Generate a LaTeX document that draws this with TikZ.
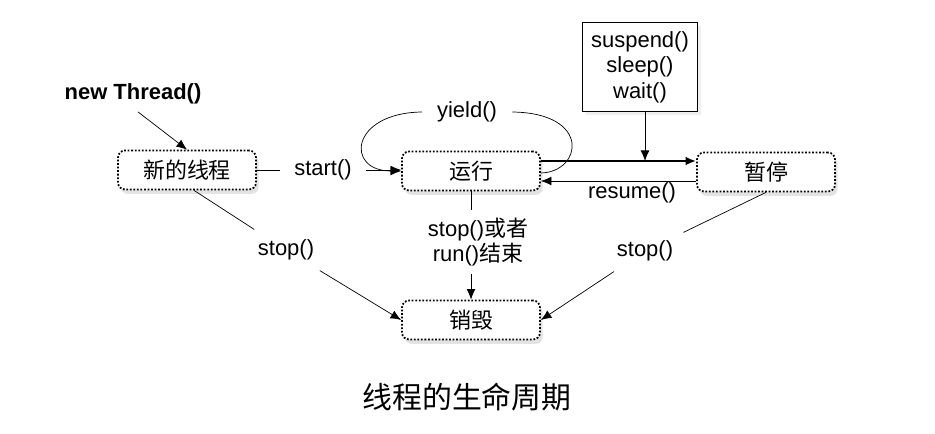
\documentclass[tikz,border=0pt]{standalone}
\usepackage{fontspec}
\setmainfont{Liberation Sans}
\newfontfamily\cjk{Noto Sans CJK SC}
\usetikzlibrary{calc, shadows, arrows.meta}

\tikzset{
  state/.style = {draw=black, densely dotted, line width=1pt, rounded corners=4pt,
    minimum width=2.76cm, minimum height=0.78cm, fill=white, font=\cjk,
    drop shadow={shadow xshift=1.5pt, shadow yshift=-2.5pt, fill=black!22}},
  methodbox/.style = {draw, line width=1pt, minimum width=2.3cm, minimum height=1.78cm,
    align=center, fill=white, drop shadow={shadow xshift=2pt, shadow yshift=-2pt, fill=black!12}}
}

\begin{document}
\fontsize{12.5}{14.5}\selectfont
\begin{tikzpicture}[x=0.02cm, y=-0.02cm, >={Latex[length=6pt,width=5pt]}]

  % Fix the page size
  \useasboundingbox (0,0) rectangle (935,433);

  % States
  \node[state] (new) at (187,170) {新的线程};
  \node[state] (run) at (471,171) {运行};
  \node[state] (pause) at (766,172) {暂停};
  \node[state] (dead) at (471,320) {销毁};
  \node[methodbox] (sleep) at (640,67) {suspend()\\sleep()\\wait()};

  % Labels
  \node[font=\bfseries] (newthread) at (133,94) {new Thread()};
  \node[inner xsep=0.28cm] (start) at (323,170) {start()};
  \node[inner xsep=0.3cm] (yield) at (467,112) {yield()};
  \node (resume) at (632,193) {resume()};
  \node[inner sep=0.2cm] (stopl) at (286,250) {stop()};
  \node[inner sep=0.2cm] (stopr) at (645,251) {stop()};
  \node[align=center] (stopm) at (478,242) {stop(){\cjk 或者}\\run(){\cjk 结束}};

  % Draw the transitions
  \draw[->] ([xshift=0.1cm]newthread.south) -- (new.north);
  \draw (new.east) -- (start.west);
  \draw[->] (start.east) -- (start.east -| run.west);
  \draw ([yshift=-0.04cm]run.east) .. controls (582,172) and (592,113) .. (yield.east);
  \draw[->] (yield.west) .. controls (350,113) and (345,171) .. (run.west);

  \coordinate (runout) at ([yshift=0.2cm]run.east);
  \draw[->, line width=1.2pt] (runout) -- (runout -| pause.west);
  \draw[->] ([xshift=0.1cm]sleep.south) -- ([xshift=0.1cm]sleep.south |- runout);
  \draw[->] ([yshift=-0.18cm]pause.west) -- ([yshift=-0.18cm]pause.west -| run.east);

  \draw ([xshift=0.14cm]new.south) -- (stopl);
  \draw[->] (stopl) -- (dead.west);
  \draw (pause.south) -- (stopr);
  \draw[->] (stopr) -- (dead.east);
  \draw (run.south) -- (run.south |- stopm.north);
  \draw[->] (dead.north |- stopm.south) -- (dead.north);

  % Caption
  \node[font=\cjk\fontsize{17}{20}\selectfont] (title) at (467,397) {线程的生命周期};

\end{tikzpicture}
\end{document}
